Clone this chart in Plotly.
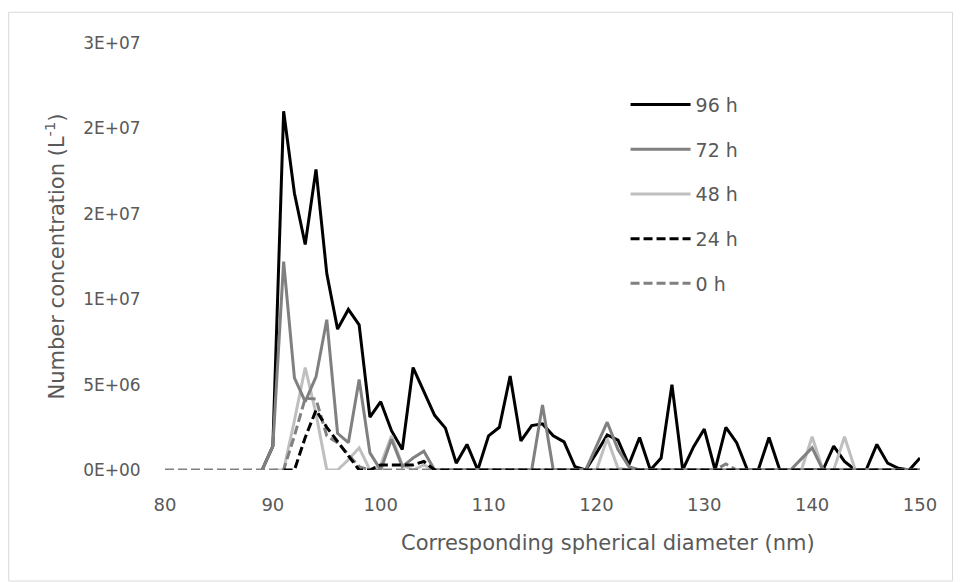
import numpy as np
import plotly.graph_objects as go

# Corresponding spherical diameter (nm), 1 nm steps
diameter = list(range(80, 151))

# Number concentration values in millions (x1e6 L^-1); None = no data point
N = None
h96 = [N]*9 + [0, 1.4, 21.0, 16.2, 13.2, 17.6, 11.5, 8.25, 9.4, 8.5, 3.1,
               4.0, 2.3, 1.2, 6.0, 4.6, 3.2, 2.45, 0.4, 1.5, 0,
               2.0, 2.5, 5.5, 1.7, 2.6, 2.7, 2.0, 1.65, 0.2, 0,
               1.0, 2.05, 1.75, 0.3, 1.9, 0, 0.7, 5.0, 0, 1.35,
               2.4, 0, 2.5, 1.6, 0, 0, 1.9, 0, 0, 0,
               0, 0, 1.4, 0.5, 0, 0, 1.5, 0.4, 0.1, 0,
               0.7]
h72 = [N]*9 + [0, 1.4, 12.2, 5.4, 4.0, 5.45, 8.8, 2.15, 1.6, 5.3, 1.0,
               0, 1.8, 0.2, 0.7, 1.1, 0, 0, 0, 0, 0,
               0, 0, 0, 0, 0, 3.8, 0, 0, 0, 0,
               1.4, 2.8, 1.2, 0.2, 0, 0, 0, 0, 0, 0,
               0, 0, 0, 0, 0, 0, 0, 0, 0, 0.65,
               1.3, 0, 0, 0, 0, 0, 0, 0, 0, 0,
               0]
h48 = [N]*10 + [0, 0, 2.9, 6.0, 3.3, 0, 0, 0.6, 1.3, 0,
                0.3, 2.0, 0.3, 0, 0.3, 0, 0, 0, 0, 0,
                0, 0, 0, 0, 0, 0, 0, 0, 0, 0,
                0, 1.85, 0.1, 0, 0, 0, 0, 0, 0, 0,
                0, 0, 0, 0, 0, 0, 0, 0, 0, 0,
                1.95, 0, 0, 1.95, 0, 0, 0, 0, 0, 0,
                0]
h24 = [N]*11 + [0, 0, 1.9, 3.5, 2.5, 1.65, 0.85, 0, 0,
                0.3, 0.3, 0.3, 0.3, 0.5, 0, 0, 0, 0, 0,
                0, 0, 0, 0, 0, 0, 0, 0, 0, 0,
                0, 0, 0, 0, 0, 0, 0, 0, 0, 0,
                0, 0, 0, 0, 0, 0, 0, 0, 0, 0,
                0, 0, 0, 0, 0, 0, 0, 0, 0, 0,
                0]
h0 = [0]*12 + [2.0, 4.2, 4.15, 2.0, 1.6, 0.9, 0.2, 0,
               0, 0, 0, 0, 0, 0, 0, 0, 0, 0,
               0, 0, 0, 0, 0, 0, 0, 0, 0, 0,
               0, 0, 0, 0, 0, 0, 0, 0, 0, 0,
               0, 0, 0.35, 0, 0, 0, 0, 0, 0, 0,
               0, 0, 0, 0, 0, 0, 0, 0, 0, 0,
               0]

series_names = ["96 h", "72 h", "48 h", "24 h", "0 h"]
series_values = [h96, h72, h48, h24, h0]
series_colors = ["#000000", "#808080", "#bfbfbf", "#000000", "#808080"]
series_dash = ["solid", "solid", "solid", "9px,4px", "9px,4px"]
series_z = [0, 2, 1, 4, 3]

y_tickvals = [0, 5e6, 10e6, 15e6, 20e6, 25e6]
y_ticktext = ["0E+00", "5E+06", "1E+07", "2E+07", "2E+07", "3E+07"]
x_tickvals = [80, 90, 100, 110, 120, 130, 140, 150]

x_title = "Corresponding spherical diameter (nm)"
y_title = "Number concentration (L<sup>-1</sup>)"

def scale(vals):
    return [None if v is None else v * 1e6 for v in vals]

fig = go.Figure()
for name, vals, col, dash, z in zip(series_names, series_values, series_colors, series_dash, series_z):
    fig.add_trace(go.Scatter(
        x=diameter, y=scale(vals), mode="lines", name=name,
        legendgroup=name, zorder=z,
        line=dict(color=col, width=3, dash=dash),
    ))

txt = "#595959"
font_family = "DejaVu Sans"
fig.update_layout(
    width=960, height=582,
    margin=dict(l=165, r=40, t=43, b=112),
    plot_bgcolor="white", paper_bgcolor="white",
    font=dict(family=font_family, size=17, color=txt),
    showlegend=True,
    legend=dict(
        x=0.61, y=0.90, xanchor="left", yanchor="top",
        traceorder="grouped", tracegroupgap=17,
        font=dict(family=font_family, size=19, color=txt),
        bgcolor="rgba(0,0,0,0)", itemwidth=60,
    ),
    xaxis=dict(
        range=[80, 150], tickvals=x_tickvals, showgrid=False, zeroline=False,
        showline=True, linecolor="#d9d9d9", linewidth=1,
        ticks="", ticklabelstandoff=18,
        tickfont=dict(family=font_family, size=18, color=txt),
    ),
    yaxis=dict(
        range=[0, 25e6], tickvals=y_tickvals, ticktext=y_ticktext,
        showgrid=False, zeroline=False,
        showline=True, linecolor="#d9d9d9", linewidth=1,
        ticks="", ticklabelstandoff=20,
        tickfont=dict(family=font_family, size=17, color=txt),
        title=dict(text=y_title, standoff=12,
                   font=dict(family=font_family, size=21, color=txt)),
    ),
)

# x-axis title (offset to the right as in the reference)
fig.add_annotation(text=x_title, xref="paper", yref="paper",
                   x=0.587, y=-0.171, xanchor="center", yanchor="middle",
                   showarrow=False, font=dict(family=font_family, size=21, color=txt))

# chart-area border
fig.add_shape(type="rect", xref="paper", yref="paper",
              x0=-0.207, x1=1.043, y0=-0.26, y1=1.072,
              line=dict(color="#d9d9d9", width=1), fillcolor="rgba(0,0,0,0)", layer="below")

fig.write_html("out.html")
